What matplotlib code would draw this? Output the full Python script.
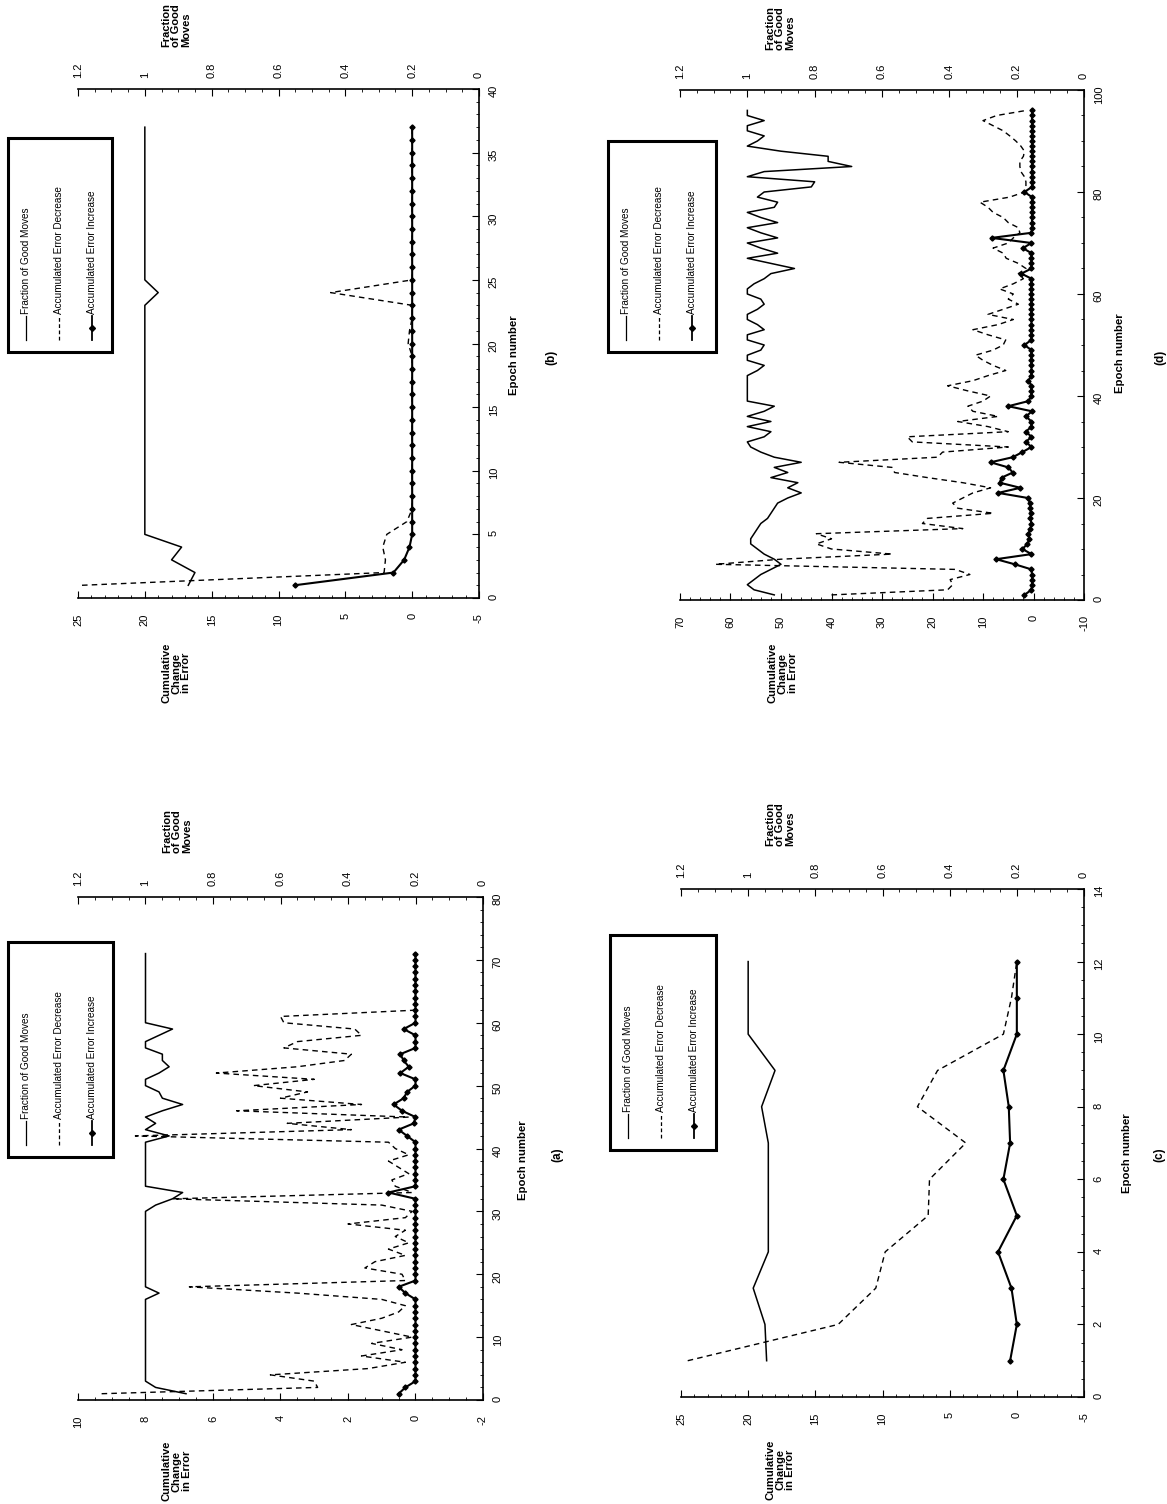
import numpy as np
import matplotlib
matplotlib.use('Agg')
from matplotlib import pyplot as plt
from matplotlib.ticker import MultipleLocator, FuncFormatter
from matplotlib.patches import Rectangle

plt.rcParams['font.family'] = ['Liberation Sans', 'DejaVu Sans']
plt.rcParams['axes.unicode_minus'] = False

# ---- data: one list per series, indexed by epoch (1..N) ----
epochs_a = np.arange(1, 72)
frac_a = [0.88, 0.97, 1.0, 1.0, 1.0, 1.0, 1.0, 1.0, 1.0, 1.0,
          1.0, 1.0, 1.0, 1.0, 1.0, 1.0, 0.96, 1.0, 1.0, 1.0,
          1.0, 1.0, 1.0, 1.0, 1.0, 1.0, 1.0, 1.0, 1.0, 1.0,
          0.97, 0.92, 0.89, 1.0, 1.0, 1.0, 1.0, 1.0, 1.0, 1.0,
          1.0, 0.93, 1.0, 0.97, 1.0, 0.95, 0.89, 0.95, 0.96, 1.0,
          1.0, 0.96, 0.93, 0.95, 0.95, 1.0, 1.0, 0.96, 0.92, 1.0,
          1.0, 1.0, 1.0, 1.0, 1.0, 1.0, 1.0, 1.0, 1.0, 1.0,
          1.0]
dec_a = [9.3, 2.9, 3.0, 4.3, 1.4, 0.3, 1.6, 0.4, 1.3, 0.1,
         1.0, 1.9, 1.0, 0.5, 0.3, 1.0, 3.5, 6.7, 0.3, 0.4,
         1.5, 1.2, 0.3, 0.8, 0.2, 0.6, 0.3, 2.0, 0.3, 0.1,
         1.0, 7.2, 0.1, 0.6, 0.7, 0.2, 0.5, 0.8, 0.2, 0.6,
         0.8, 8.3, 1.9, 3.8, 0.2, 5.3, 1.6, 4.0, 3.2, 4.8,
         3.0, 5.9, 3.5, 2.1, 1.9, 3.9, 3.5, 1.6, 1.8, 3.9,
         4.0, 0.0, 0.0, 0.0, 0.0, 0.0, 0.0, 0.0, 0.0, 0.0,
         0.0]
inc_a = [0.5, 0.3, 0.0, 0.0, 0.0, 0.0, 0.0, 0.0, 0.0, 0.0,
         0.0, 0.0, 0.0, 0.0, 0.0, 0.0, 0.3, 0.5, 0.0, 0.0,
         0.0, 0.0, 0.0, 0.0, 0.0, 0.0, 0.0, 0.0, 0.0, 0.0,
         0.0, 0.0, 0.8, 0.0, 0.0, 0.0, 0.0, 0.0, 0.0, 0.0,
         0.0, 0.25, 0.5, 0.05, 0.0, 0.4, 0.65, 0.35, 0.25, 0.0,
         0.0, 0.45, 0.2, 0.35, 0.45, 0.0, 0.0, 0.0, 0.35, 0.0,
         0.0, 0.0, 0.0, 0.0, 0.0, 0.0, 0.0, 0.0, 0.0, 0.0,
         0.0]

epochs_b = np.arange(1, 38)
frac_b = [0.87, 0.85, 0.92, 0.89, 1.0, 1.0, 1.0, 1.0, 1.0, 1.0,
          1.0, 1.0, 1.0, 1.0, 1.0, 1.0, 1.0, 1.0, 1.0, 1.0,
          1.0, 1.0, 1.0, 0.96, 1.0, 1.0, 1.0, 1.0, 1.0, 1.0,
          1.0, 1.0, 1.0, 1.0, 1.0, 1.0, 1.0]
dec_b = [24.7, 2.1, 2.0, 2.2, 1.9, 0.4, 0.0, 0.0, 0.0, 0.0,
         0.0, 0.0, 0.0, 0.0, 0.0, 0.0, 0.0, 0.0, 0.0, 0.3,
         0.2, 0.0, 0.0, 6.1, 0.0, 0.0, 0.0, 0.0, 0.0, 0.0,
         0.0, 0.0, 0.0, 0.0, 0.0, 0.0, 0.0]
inc_b = [8.8, 1.4, 0.6, 0.2, 0.0, 0.0, 0.0, 0.0, 0.0, 0.0,
         0.0, 0.0, 0.0, 0.0, 0.0, 0.0, 0.0, 0.0, 0.0, 0.0,
         0.0, 0.0, 0.0, 0.0, 0.0, 0.0, 0.0, 0.0, 0.0, 0.0,
         0.0, 0.0, 0.0, 0.0, 0.0, 0.0, 0.0]

epochs_c = np.arange(1, 13)
frac_c = [0.945, 0.95, 0.985, 0.94, 0.94, 0.94, 0.94, 0.96, 0.92, 1.0, 1.0, 1.0]
dec_c = [24.5, 13.3, 10.5, 9.8, 6.6, 6.5, 3.8, 7.4, 5.9, 1.0, 0.4, 0.0]
inc_c = [0.5, 0.0, 0.4, 1.4, 0.0, 1.0, 0.5, 0.6, 1.0, 0.0, 0.0, 0.0]

epochs_d = np.arange(1, 97)
frac_d = [0.92, 0.98, 1.0, 0.98, 0.96, 0.93, 0.90, 0.92, 0.95, 0.97,
          0.99, 0.99, 0.98, 0.97, 0.96, 0.94, 0.93, 0.92, 0.91, 0.88,
          0.84, 0.88, 0.85, 0.93, 0.88, 0.92, 0.84, 0.92, 0.96, 0.99,
          1.0, 0.95, 0.93, 1.0, 0.93, 1.0, 0.95, 0.92, 1.0, 1.0,
          1.0, 1.0, 1.0, 1.0, 0.97, 0.95, 1.0, 1.0, 0.96, 0.95,
          1.0, 1.0, 0.95, 0.97, 1.0, 1.0, 0.97, 0.95, 0.96, 1.0,
          1.0, 0.98, 0.95, 0.93, 0.86, 0.93, 1.0, 0.91, 0.96, 1.0,
          0.91, 0.96, 1.0, 0.91, 0.96, 1.0, 0.92, 0.91, 0.97, 0.95,
          0.81, 0.80, 1.0, 0.95, 0.69, 0.76, 0.76, 0.90, 1.0, 0.97,
          0.95, 1.0, 1.0, 0.95, 1.0, 1.0]
dec_d = [40, 17, 16, 16.5, 12.6, 15.5, 63, 50, 28, 40,
         43, 40, 43, 14, 22, 21, 8, 15, 16, 14,
         12, 8.5, 14, 21, 27.5, 28, 38.5, 19, 18, 5,
         24, 25, 5, 9, 15, 7, 12, 13, 10, 8.5,
         13, 17, 12, 9, 5.5, 8, 10, 11.5, 8, 6,
         5.5, 9, 12, 7, 4, 9, 6, 3, 5, 4,
         6.7, 4, 2, 3, 1.5, 3, 5.4, 6, 8, 5,
         4, 2.7, 3, 5, 6, 8, 9, 10.6, 4.7, 1.8,
         1.5, 1.5, 1.8, 2.5, 2.7, 2.7, 2.0, 1.8, 2.5, 3.5,
         4.7, 6, 8, 10, 7.3, 1.4]
inc_d = [1.8, 0.4, 0.3, 0.3, 0.3, 0.4, 3.7, 7.4, 0.4, 2.2,
         1.2, 0.8, 1.0, 0.6, 0.4, 0.6, 0.5, 0.7, 0.7, 1.1,
         7.0, 2.6, 6.7, 6.3, 4.1, 5.0, 8.5, 4.1, 2.2, 0.4,
         1.5, 0.4, 1.5, 0.4, 0.4, 1.5, 0.3, 5.0, 1.0, 0.4,
         0.4, 0.4, 1.0, 0.4, 0.4, 0.4, 0.4, 0.4, 0.4, 1.8,
         0.4, 0.4, 0.4, 0.4, 0.4, 0.4, 0.4, 0.4, 0.4, 0.4,
         0.4, 0.4, 0.4, 2.4, 0.4, 0.4, 0.4, 0.4, 2.1, 0.4,
         8.3, 0.4, 0.3, 0.3, 0.3, 0.3, 0.3, 0.3, 0.3, 1.8,
         0.3, 0.3, 0.3, 0.3, 0.3, 0.3, 0.3, 0.3, 0.3, 0.3,
         0.3, 0.3, 0.3, 0.3, 0.3, 0.3]

legend_labels = ['Fraction of Good Moves', 'Accumulated Error Decrease',
                 'Accumulated Error Increase']

W, H = 1167, 1504
fig = plt.figure(figsize=(W / 100, H / 100), dpi=100)

DASH = (0, (4, 3))


def frac_fmt(v, p):
    return '0' if abs(v) < 1e-9 else f'{v:.1f}'.rstrip('0').rstrip('.')


def draw_panel(box, epochs, frac, dec, inc, vmax, vmin, vmajor, vminor,
               emax, emajor, eminor):
    # the page is turned: error values run right-to-left along the bottom,
    # epochs run upward along the right edge, fraction along the top
    x0, y0, x1, y1 = box
    ax = fig.add_axes([x0 / W, 1 - y1 / H, (x1 - x0) / W, (y1 - y0) / H])
    ax.patch.set_alpha(0)
    ax.plot(dec, epochs, color='black', lw=1.0, ls=DASH)
    ax.plot(inc, epochs, color='black', lw=1.5, marker='D', ms=2.6)
    ax.set_xlim(vmax, vmin)
    ax.set_ylim(0, emax)
    ax.xaxis.set_major_locator(MultipleLocator(vmajor))
    ax.xaxis.set_minor_locator(MultipleLocator(vminor))
    ax.yaxis.set_major_locator(MultipleLocator(emajor))
    ax.yaxis.set_minor_locator(MultipleLocator(eminor))
    ax.xaxis.set_major_formatter(FuncFormatter(lambda v, p: f'{v:g}'))
    ax.yaxis.tick_right()
    ax.tick_params(axis='x', which='both', direction='in', bottom=True, top=False,
                   labelrotation=90, labelsize=8, pad=11)
    ax.tick_params(axis='y', which='both', direction='in', left=False, right=True,
                   labelrotation=90, labelsize=8, pad=7)
    ax.tick_params(which='major', length=5, width=0.8)
    ax.tick_params(which='minor', length=2.5, width=0.6)
    for s in ['left', 'top']:
        ax.spines[s].set_visible(False)
    for s in ['right', 'bottom']:
        ax.spines[s].set_linewidth(1.2)

    ax2 = ax.twiny()
    ax2.plot(frac, epochs, color='black', lw=1.1)
    ax2.set_xlim(1.2, 0)
    ax2.xaxis.set_major_locator(MultipleLocator(0.2))
    ax2.xaxis.set_minor_locator(MultipleLocator(0.05))
    ax2.xaxis.set_major_formatter(FuncFormatter(frac_fmt))
    ax2.tick_params(axis='x', which='both', direction='in', top=True, bottom=False,
                    labelrotation=90, labelsize=8, pad=8)
    ax2.tick_params(which='major', length=5, width=0.8)
    ax2.tick_params(which='minor', length=2.5, width=0.6)
    for s in ['left', 'right', 'bottom']:
        ax2.spines[s].set_visible(False)
    ax2.spines['top'].set_linewidth(1.2)
    return ax


draw_panel((78, 897, 483, 1400), epochs_a, frac_a, dec_a, inc_a, 10, -2, 2, 0.5, 80, 10, 2)
draw_panel((78, 89, 479, 598), epochs_b, frac_b, dec_b, inc_b, 25, -5, 5, 1, 40, 5, 1)
draw_panel((681, 889, 1084, 1397), epochs_c, frac_c, dec_c, inc_c, 25, -5, 5, 1, 14, 2, 0.5)
draw_panel((680, 90, 1084, 600), epochs_d, frac_d, dec_d, inc_d, 70, -10, 10, 2, 100, 20, 5)

# overlay in pixel units for titles and the hand-built legends
ov = fig.add_axes([0, 0, 1, 1])
ov.set_xlim(0, W)
ov.set_ylim(H, 0)
ov.axis('off')

titles = {
    'a': dict(frac=(177, 831), cum=(177, 1471), epoch=(523, 1160), tag=(557, 1155),
              legend=(8, 942, 113, 1157)),
    'b': dict(frac=(176, 25), cum=(176, 673), epoch=(514, 355), tag=(551, 357),
              legend=(8, 138, 112, 352)),
    'c': dict(frac=(780, 824), cum=(780, 1470), epoch=(1127, 1153), tag=(1159, 1155),
              legend=(610, 935, 716, 1150)),
    'd': dict(frac=(780, 28), cum=(783, 673), epoch=(1120, 353), tag=(1160, 357),
              legend=(608, 141, 716, 352)),
}

for tag, t in titles.items():
    ov.text(*t['frac'], 'Fraction\nof Good\nMoves', rotation=90, ha='center', va='center',
            fontsize=8, fontweight='bold', linespacing=1.0, multialignment='left')
    ov.text(*t['cum'], 'Cumulative\nChange\nin Error', rotation=90, ha='center', va='center',
            fontsize=8, fontweight='bold', linespacing=1.0, multialignment='center')
    ov.text(*t['epoch'], 'Epoch number', rotation=90, ha='center', va='center',
            fontsize=8.2, fontweight='bold')
    ov.text(*t['tag'], f'({tag})', rotation=90, ha='center', va='center',
            fontsize=8.5, fontweight='bold')

    lx0, ly0, lx1, ly1 = t['legend']
    ov.add_patch(Rectangle((lx0, ly0), lx1 - lx0, ly1 - ly0, facecolor='white',
                           edgecolor='black', lw=2.2, zorder=5))
    for i, label in enumerate(legend_labels):
        ex = lx0 + 18 + i * 33
        yb = ly1 - 12
        if i == 0:
            ov.plot([ex, ex], [yb, yb - 24], color='black', lw=0.9, zorder=6)
        elif i == 1:
            ov.plot([ex, ex], [yb, yb - 24], color='black', lw=0.9, ls=(0, (3, 2)), zorder=6)
        else:
            ov.plot([ex, ex], [yb, yb - 24], color='black', lw=1.3, zorder=6)
            ov.plot([ex], [yb - 12], color='black', marker='D', ms=3, zorder=6)
        ov.text(ex, yb - 26, label, rotation=90, rotation_mode='anchor', ha='left',
                va='center', fontsize=7.2, zorder=6)

fig.savefig('out.png', dpi=100)
